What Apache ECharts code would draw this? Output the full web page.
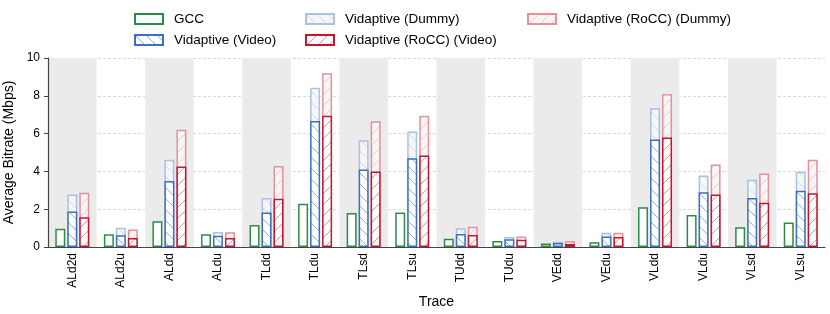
<!DOCTYPE html>
<html><head><meta charset="utf-8">
<script src="https://cdn.jsdelivr.net/npm/echarts@6/dist/echarts.min.js"></script>
<style>html,body{margin:0;padding:0;background:#fff}#c{width:830px;height:314px}</style>
</head><body><div id="c"></div>
<script>
const categories = ['ALd2d','ALd2u','ALdd','ALdu','TLdd','TLdu','TLsd','TLsu','TUdd','TUdu','VEdd','VEdu','VLdd','VLdu','VLsd','VLsu'];
const gcc        = [0.97,0.67,1.36,0.67,1.16,2.29,1.80,1.83,0.43,0.32,0.18,0.25,2.10,1.69,1.04,1.30];
const vidVideo   = [1.88,0.62,3.49,0.60,1.82,6.67,4.10,4.70,0.69,0.41,0.21,0.56,5.69,2.90,2.59,2.98];
const vidDummy   = [2.78,1.02,4.61,0.79,2.59,8.43,5.65,6.11,0.99,0.53,0.28,0.76,7.34,3.78,3.56,3.98];
const roccVideo  = [1.58,0.48,4.26,0.48,2.55,6.95,4.00,4.84,0.63,0.39,0.16,0.53,5.79,2.78,2.34,2.85];
const roccDummy  = [2.87,0.92,6.21,0.78,4.28,9.19,6.65,6.94,1.07,0.55,0.32,0.76,8.10,4.37,3.89,4.61];
const yTicks = [0,2,4,6,8,10];

function pattern(bg, line, dir){
  const s = 11, c = document.createElement('canvas');
  c.width = s; c.height = s;
  const g = c.getContext('2d');
  g.fillStyle = bg; g.fillRect(0,0,s,s);
  g.strokeStyle = line; g.lineWidth = 1;
  g.beginPath();
  if (dir === '\\') {
    g.moveTo(0,0); g.lineTo(s,s);
    g.moveTo(-s/2,s/2); g.lineTo(s/2,s*1.5);
    g.moveTo(s/2,-s/2); g.lineTo(s*1.5,s/2);
  } else {
    g.moveTo(0,s); g.lineTo(s,0);
    g.moveTo(-s/2,s/2); g.lineTo(s/2,-s/2);
    g.moveTo(s/2,s*1.5); g.lineTo(s*1.5,s/2);
  }
  g.stroke();
  return {image: c, repeat: 'repeat'};
}

const chart = echarts.init(document.getElementById('c'), null, {renderer:'canvas'});
const font = 'Liberation Sans, Arial, Helvetica, sans-serif';
const BW = 10, GAP = '20%';
const xBase = {type:'category', data: categories, boundaryGap:true};
const legendCommon = {orient:'vertical', top:12, padding:0, icon:'rect', itemWidth:28, itemHeight:10, itemGap:7,
  textStyle:{fontSize:13.5, color:'#000', lineHeight:14, padding:[0,0,0,6]}};
chart.setOption({
  animation:false,
  textStyle:{fontFamily:font},
  grid:{left:48, right:5, top:58, bottom:67, containLabel:false, outerBoundsMode:'none'},
  legend:[
    Object.assign({data:['GCC','Vidaptive (Video)'], left:134}, legendCommon),
    Object.assign({data:['Vidaptive (Dummy)','Vidaptive (RoCC) (Video)'], left:305}, legendCommon),
    Object.assign({data:['Vidaptive (RoCC) (Dummy)'], left:527}, legendCommon)
  ],
  xAxis:[
    Object.assign({}, xBase, {
      name:'Trace', nameLocation:'middle', nameGap:46,
      nameTextStyle:{fontSize:14, color:'#000'},
      axisLine:{lineStyle:{color:'#444', width:1.2}},
      axisTick:{alignWithLabel:true, length:4, lineStyle:{color:'#444'}},
      axisLabel:{rotate:90, fontSize:12, color:'#000', margin:6},
      splitArea:{show:true, areaStyle:{color:['#ebebeb','rgba(255,255,255,0)']}}
    }),
    Object.assign({}, xBase, {show:false, position:'bottom'})
  ],
  yAxis:{
    type:'value', min:0, max:10, interval:2,
    name:'Average Bitrate (Mbps)', nameLocation:'middle', nameGap:27,
    nameTextStyle:{fontSize:14, color:'#000'},
    axisLine:{show:true, lineStyle:{color:'#444', width:1.2}},
    axisTick:{show:true, length:4, lineStyle:{color:'#444'}},
    axisLabel:{fontSize:12, color:'#000', margin:8, formatter: v => yTicks.includes(v) ? String(v) : ''},
    splitLine:{show:true, lineStyle:{color:'#cfcfcf', type:[3,2], width:0.8}}
  },
  series:[
    {name:'GCC', type:'bar', xAxisIndex:0, data:gcc, barWidth:BW, barGap:GAP,
     itemStyle:{color:'#ffffff', borderColor:'#2e8b46', borderWidth:1.5}},
    {name:'Vidaptive (Dummy)', type:'bar', xAxisIndex:0, data:vidDummy, barWidth:BW, barGap:GAP,
     itemStyle:{color:pattern('#f6f6f6','#cbd8ed','\\'), borderColor:'#a9c1e3', borderWidth:1.5}},
    {name:'Vidaptive (RoCC) (Dummy)', type:'bar', xAxisIndex:0, data:roccDummy, barWidth:BW, barGap:GAP,
     itemStyle:{color:pattern('#f6f6f6','#f0c6cb','/'), borderColor:'#e5909b', borderWidth:1.5}},
    {name:'_pad', type:'bar', xAxisIndex:1, data:categories.map(()=> '-'), barWidth:BW, barGap:GAP},
    {name:'Vidaptive (Video)', type:'bar', xAxisIndex:1, data:vidVideo, barWidth:BW, barGap:GAP,
     itemStyle:{color:pattern('#ffffff','#94b2dd','\\'), borderColor:'#3d6fbf', borderWidth:1.5}},
    {name:'Vidaptive (RoCC) (Video)', type:'bar', xAxisIndex:1, data:roccVideo, barWidth:BW, barGap:GAP,
     itemStyle:{color:pattern('#ffffff','#e6919c','/'), borderColor:'#c0172e', borderWidth:1.5}}
  ]
});
</script></body></html>
